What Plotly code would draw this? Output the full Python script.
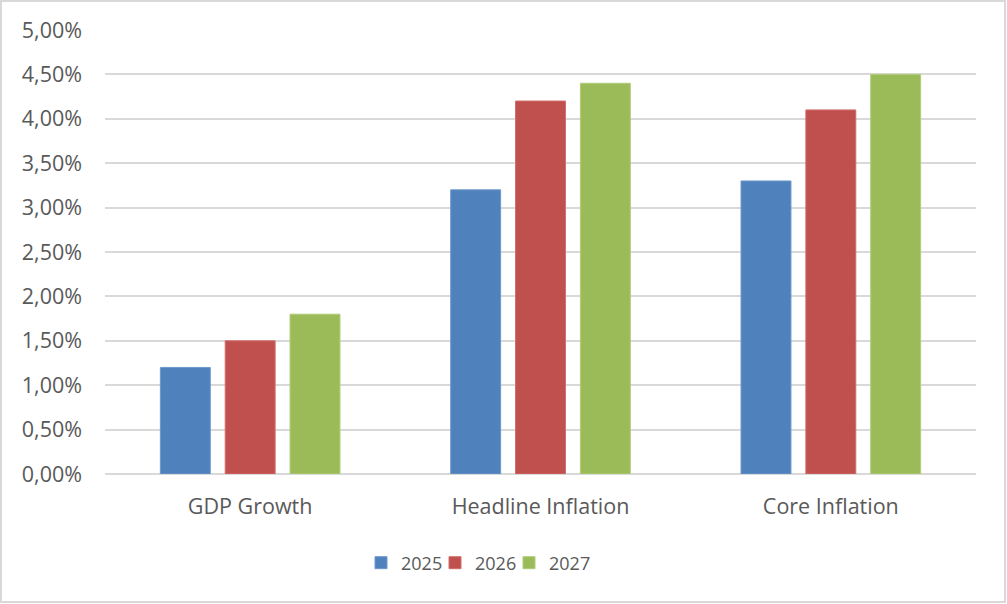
import plotly.graph_objects as go

categories = ["GDP Growth", "Headline Inflation", "Core Inflation"]
series_names = ["2025", "2026", "2027"]
values_2025 = [0.012, 0.032, 0.033]
values_2026 = [0.015, 0.042, 0.041]
values_2027 = [0.018, 0.044, 0.045]
tick_vals = [0, 0.005, 0.01, 0.015, 0.02, 0.025, 0.03, 0.035, 0.04, 0.045, 0.05]
tick_text = ["0,00%", "0,50%", "1,00%", "1,50%", "2,00%", "2,50%", "3,00%", "3,50%", "4,00%", "4,50%", "5,00%"]

colors = ["#4F81BD", "#C0504D", "#9BBB59"]
line_colors = ["#6E98CC", "#D06E6B", "#B0CC78"]

fig = go.Figure()
for name, vals, c, lc in zip(series_names, [values_2025, values_2026, values_2027], colors, line_colors):
    fig.add_trace(go.Bar(name=name, x=categories, y=vals, marker=dict(color=c, line=dict(color=lc, width=1))))
# invisible spacer legend entry so the last legend label is not clipped
fig.add_trace(go.Scatter(x=[None], y=[None], mode="markers", name=" ",
                         marker=dict(color="rgba(0,0,0,0)"), hoverinfo="skip"))

W, H = 1007, 604
ml, mr, mt, mb = 105, 31, 30, 130
pw, ph = W - ml - mr, H - mt - mb

fig.update_layout(
    width=W, height=H,
    margin=dict(l=ml, r=mr, t=mt, b=mb),
    paper_bgcolor="white", plot_bgcolor="white",
    barmode="group", bargap=0.33, bargroupgap=0.23,
    font=dict(family="Open Sans", size=21, color="#595959"),
    xaxis=dict(showgrid=False, showline=False, ticks="", tickfont=dict(size=21.5), ticklabelstandoff=17),
    yaxis=dict(range=[0, 0.05], tickvals=tick_vals, ticktext=tick_text,
               showgrid=True, gridcolor="#D9D9D9", gridwidth=1.5,
               zeroline=True, zerolinecolor="#D9D9D9", zerolinewidth=1.5,
               showline=False, ticks="", ticklabelstandoff=22, tickfont=dict(size=21.5)),
    legend=dict(orientation="h", x=(361 - ml) / pw, xanchor="left", y=-(563 - 474) / ph, yanchor="middle",
                font=dict(size=18), itemwidth=30, traceorder="normal",
                entrywidth=29, entrywidthmode="pixels"),
    shapes=[dict(type="rect", xref="paper", yref="paper",
                 x0=-(ml - 1) / pw, x1=1 + (mr - 2) / pw,
                 y0=-(mb - 2) / ph, y1=1 + (mt - 1) / ph,
                 line=dict(color="#D9D9D9", width=2), layer="below")],
)

fig.write_html("out.html", config={"displayModeBar": False},
               post_script="document.body.style.margin='0';")
